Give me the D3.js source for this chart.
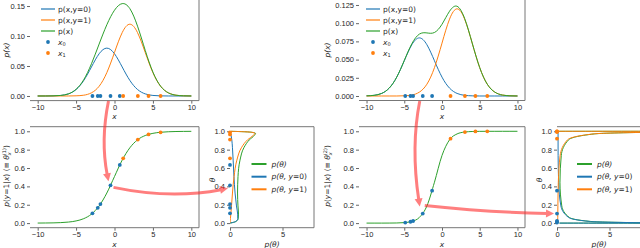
<!DOCTYPE html>
<html>
<head>
<meta charset="utf-8">
<script src="https://cdn.jsdelivr.net/npm/d3@7"></script>
<style>
  body { margin: 0; background: #fff; }
  svg { display: block; font-family: "DejaVu Sans", sans-serif; }
  .tick text { font-size: 7.5px; fill: #262626; }
  .tick line { stroke: #666; }
  .lbl { font-size: 7.5px; fill: #262626; }
  .it { font-style: italic; }
</style>
</head>
<body>
<svg id="fig" width="640" height="248"></svg>
<script>
// sample grid shared by the density and sigmoid curves
const xGrid = [-10, -9, -8, -7, -6, -5, -4, -3, -2, -1, 0, 1, 2, 3, 4, 5, 6, 7, 8, 9, 10];

// left column: p(x, y=0), p(x, y=1), p(x)
const pxY0L = [0.0000, 0.0000, 0.0002, 0.0009, 0.0035, 0.0108, 0.0259, 0.0484, 0.0704, 0.0798, 0.0704,
               0.0484, 0.0259, 0.0108, 0.0035, 0.0009, 0.0002, 0.0000, 0.0000, 0.0000, 0.0000];
const pxY1L = [0.0000, 0.0000, 0.0000, 0.0000, 0.0000, 0.0003, 0.0013, 0.0053, 0.0162, 0.0389, 0.0726,
               0.1056, 0.1197, 0.1056, 0.0726, 0.0389, 0.0162, 0.0053, 0.0013, 0.0003, 0.0000];
const pxL   = [0.0000, 0.0000, 0.0002, 0.0009, 0.0035, 0.0111, 0.0272, 0.0537, 0.0866, 0.1187, 0.1430,
               0.1540, 0.1456, 0.1164, 0.0761, 0.0398, 0.0164, 0.0053, 0.0013, 0.0003, 0.0000];
// p(y=1|x) on the same grid
const thetaL = [0.0006, 0.0012, 0.0025, 0.0054, 0.0113, 0.0237, 0.0488, 0.0980, 0.1870, 0.3275, 0.5076,
                0.6858, 0.8207, 0.9072, 0.9539, 0.9777, 0.9893, 0.9949, 0.9976, 0.9989, 0.9995];
// densities over theta at the same points
const dY0L = [0.0075, 0.0297, 0.0915, 0.2207, 0.4176, 0.6228, 0.7436, 0.7299, 0.6174, 0.4830, 0.3756,
              0.2995, 0.2347, 0.1711, 0.1064, 0.0542, 0.0221, 0.0071, 0.0018, 0.0004, 0.0001];
const dY1L = [0.0000, 0.0000, 0.0002, 0.0012, 0.0048, 0.0151, 0.0382, 0.0793, 0.1420, 0.2352, 0.3872,
              0.6535, 1.0846, 1.6732, 2.2023, 2.3762, 2.0479, 1.3928, 0.7404, 0.3093, 0.0992];
const dL   = [0.0075, 0.0297, 0.0917, 0.2219, 0.4224, 0.6379, 0.7818, 0.8092, 0.7594, 0.7182, 0.7628,
              0.9530, 1.3193, 1.8443, 2.3087, 2.4304, 2.0700, 1.3999, 0.7422, 0.3097, 0.0993];
const x0L = [-2.87, -2.18, -1.83, -0.52, 0.69];
const x1L = [1.13, 3.04, 4.43, 6.0];
const th0L = [0.107, 0.167, 0.207, 0.411, 0.634];
const th1L = [0.706, 0.910, 0.966, 0.989];

// right column
const pxY0R = [0.0002, 0.0009, 0.0035, 0.0108, 0.0259, 0.0484, 0.0704, 0.0798, 0.0704, 0.0484, 0.0259,
               0.0108, 0.0035, 0.0009, 0.0002, 0.0000, 0.0000, 0.0000, 0.0000, 0.0000, 0.0000];
const pxY1R = [0.0000, 0.0000, 0.0000, 0.0000, 0.0000, 0.0003, 0.0013, 0.0053, 0.0162, 0.0389, 0.0726,
               0.1056, 0.1197, 0.1056, 0.0726, 0.0389, 0.0162, 0.0053, 0.0013, 0.0003, 0.0000];
const pxR   = [0.0002, 0.0009, 0.0035, 0.0108, 0.0259, 0.0487, 0.0717, 0.0850, 0.0866, 0.0872, 0.0985,
               0.1164, 0.1232, 0.1065, 0.0728, 0.0389, 0.0162, 0.0053, 0.0013, 0.0003, 0.0000];
const thetaR = [0.0000, 0.0000, 0.0001, 0.0004, 0.0015, 0.0054, 0.0185, 0.0618, 0.1870, 0.4453, 0.7370,
                0.9072, 0.9715, 0.9917, 0.9976, 0.9993, 0.9998, 0.9999, 1.0000, 1.0000, 1.0000];
// theta panel on the right uses a wider sample (-14 .. 14)
const thetaWideR = [7.0e-8, 2.45e-7, 8.57e-7, 2.99e-6, 1.04e-5, 3.64e-5, 1.27e-4, 4.44e-4, 0.001548,
                    0.005384, 0.018535, 0.06183, 0.18703, 0.44534, 0.73701, 0.90723, 0.97154, 0.99168,
                    0.99760, 0.99931, 0.99980, 0.999943, 0.999984, 0.9999954, 0.9999987, 0.9999996,
                    0.99999989, 0.99999997, 0.99999999];
const dY0R = [0.24, 0.97, 2.99, 7.16, 13.4, 19.5, 22.1, 19.46, 13.41, 7.229, 3.097, 1.1004, 0.3705,
              0.1567, 0.1069, 0.1026, 0.1014, 0.0859, 0.0583, 0.0311, 0.0130, 0.0042, 0.0011, 0.0002,
              0, 0, 0, 0, 0];
const dY1R = [0, 0, 0, 0, 0.0001, 0.0007, 0.0028, 0.0086, 0.0208, 0.0391, 0.0585, 0.0725, 0.0852,
              0.1258, 0.2996, 1.0039, 3.4628, 10.24, 24.26, 45.1, 65.8, 74.5, 65.5, 45.0, 24.2, 10.1,
              3.3, 0.83, 0.16];
const dR   = [0.24, 0.97, 2.99, 7.16, 13.4, 19.5, 22.1, 19.47, 13.43, 7.268, 3.156, 1.173, 0.4557,
              0.2825, 0.4065, 1.1065, 3.5642, 10.33, 24.32, 45.13, 65.81, 74.5, 65.5, 45.0, 24.2, 10.1,
              3.3, 0.83, 0.16];
const x0R = [-4.87, -4.18, -3.83, -2.55, -1.31];
const x1R = [1.13, 3.04, 4.43, 6.0];
const th0R = [0.0063, 0.0149, 0.0228, 0.104, 0.353];
const th1R = [0.920, 0.992, 0.999, 1.000];

const xTicks = [-10, -5, 0, 5, 10];
const thTicks = [0, 0.2, 0.4, 0.6, 0.8, 1.0];
const pThTicks = [0, 5];

const blue = '#1f77b4', orange = '#ff7f0e', green = '#2ca02c';

const svg = d3.select('#fig');
let clipId = 0;

// one matplotlib-like axes: spines top/right/bottom, no left spine
function panel(box, xd, yd, xt, yt, xfmt, yfmt) {
  const x = d3.scaleLinear().domain(xd).range([box.l, box.r]);
  const y = d3.scaleLinear().domain(yd).range([box.b, box.t]);
  const g = svg.append('g');
  const id = 'clip' + (clipId++);
  svg.append('clipPath').attr('id', id).append('rect')
    .attr('x', box.l).attr('y', box.t).attr('width', box.r - box.l).attr('height', box.b - box.t);

  g.append('g').attr('transform', 'translate(0,' + box.b + ')')
    .call(d3.axisBottom(x).tickValues(xt).tickFormat(xfmt).tickSize(3).tickPadding(1))
    .call(a => a.select('.domain').remove());
  g.append('g').attr('transform', 'translate(' + box.l + ',0)')
    .call(d3.axisLeft(y).tickValues(yt).tickFormat(yfmt).tickSize(3).tickPadding(2))
    .call(a => a.select('.domain').remove());
  g.selectAll('.tick text').attr('font-family', null).attr('font-size', null);

  const plot = g.append('g').attr('clip-path', 'url(#' + id + ')');
  const spines = g.append('g').attr('stroke', '#777').attr('stroke-width', 1).attr('fill', 'none');
  spines.append('path').attr('d', 'M' + box.l + ',' + box.t + 'H' + box.r + 'V' + box.b + 'H' + box.l);
  return { x, y, g, plot, box };
}

const fmtX = d => d3.format('d')(d);

function densityPanel(box, ymax, yfmt, yTicks, ys) {
  const p = panel(box, [-11, 11], ymax, xTicks, yTicks, fmtX, yfmt);
  const line = arr => d3.line().x((d, i) => p.x(xGrid[i])).y(d => p.y(d)).curve(d3.curveNatural)(arr);
  [[ys[0], blue], [ys[1], orange], [ys[2], green]].forEach(([arr, c]) => {
    p.plot.append('path').attr('d', line(arr)).attr('fill', 'none').attr('stroke', c).attr('stroke-width', 1);
  });
  [[ys[3], blue], [ys[4], orange]].forEach(([pts, c]) => {
    p.g.append('g').selectAll('circle').data(pts).join('circle')
      .attr('cx', d => p.x(d)).attr('cy', p.y(0)).attr('r', 1.9).attr('fill', c);
  });
  return p;
}

function sigmoidPanel(box, theta, xs0, xs1, t0, t1) {
  const p = panel(box, [-11, 11], [-0.05, 1.05], xTicks, thTicks, fmtX, d3.format('.1f'));
  p.plot.append('path')
    .attr('d', d3.line().x((d, i) => p.x(xGrid[i])).y(d => p.y(d)).curve(d3.curveMonotoneX)(theta))
    .attr('fill', 'none').attr('stroke', green).attr('stroke-width', 1);
  [[xs0, t0, blue], [xs1, t1, orange]].forEach(([xs, ts, c]) => {
    p.g.append('g').selectAll('circle').data(xs).join('circle')
      .attr('cx', d => p.x(d)).attr('cy', (d, i) => p.y(ts[i])).attr('r', 1.9).attr('fill', c);
  });
  return p;
}

function thetaPanel(box, theta, curves, t0, t1) {
  const p = panel(box, [0, 8], [-0.05, 1.05], pThTicks, thTicks, d3.format('d'), d3.format('.1f'));
  curves.forEach(([arr, c]) => {
    p.plot.append('path')
      .attr('d', d3.line().x(d => p.x(d)).y((d, i) => p.y(theta[i])).curve(d3.curveMonotoneY)(arr))
      .attr('fill', 'none').attr('stroke', c).attr('stroke-width', 1);
  });
  [[t0, blue], [t1, orange]].forEach(([ts, c]) => {
    p.g.append('g').selectAll('circle').data(ts).join('circle')
      .attr('cx', p.x(0)).attr('cy', d => p.y(d)).attr('r', 1.9).attr('fill', c);
  });
  return p;
}

// ---- panels ----
const pA = densityPanel({ l: 30, r: 199, t: -1, b: 100.6 }, [-0.0077, 0.1617], d3.format('.2f'),
  [0, 0.05, 0.10, 0.15], [pxY0L, pxY1L, pxL, x0L, x1L]);
const pD = densityPanel({ l: 359, r: 525, t: -1, b: 100.5 }, [-0.0062, 0.1332], d3.format('.3f'),
  [0, 0.025, 0.05, 0.075, 0.1, 0.125], [pxY0R, pxY1R, pxR, x0R, x1R]);
const pB = sigmoidPanel({ l: 30, r: 199, t: 126.7, b: 227.7 }, thetaL, x0L, x1L, th0L, th1L);
const pE = sigmoidPanel({ l: 359, r: 525, t: 126.7, b: 227.7 }, thetaR, x0R, x1R, th0R, th1R);
const pC = thetaPanel({ l: 230, r: 314, t: 126.7, b: 227.7 }, thetaL,
  [[dL, green], [dY0L, blue], [dY1L, orange]], th0L, th1L);
const pF = thetaPanel({ l: 557, r: 641, t: 126.7, b: 227.7 }, thetaWideR,
  [[dR, green], [dY0R, blue], [dY1R, orange]], th0R, th1R);

// ---- labels ----
function vlabel(x, y, build) {
  const t = svg.append('text').attr('class', 'lbl').attr('text-anchor', 'middle')
    .attr('transform', 'translate(' + x + ',' + y + ') rotate(-90)');
  build(t);
}
function hlabel(x, y, build) {
  const t = svg.append('text').attr('class', 'lbl').attr('text-anchor', 'middle').attr('x', x).attr('y', y);
  build(t);
}
const italic = (t, s) => t.append('tspan').attr('class', 'it').text(s);

[pA, pD].forEach(p => {
  hlabel((p.box.l + p.box.r) / 2, 119, t => italic(t, 'x'));
});
[pB, pE].forEach(p => {
  hlabel((p.box.l + p.box.r) / 2, 246.5, t => italic(t, 'x'));
});
[pC, pF].forEach(p => {
  hlabel(p.x(4), 246.5, t => italic(t, 'p(θ)'));
  vlabel(p.box.l - 15, 180, t => italic(t, 'θ'));
});
vlabel(9, 50, t => italic(t, 'p(x)'));
vlabel(330, 50, t => italic(t, 'p(x)'));
[[pB, 9, '(1)'], [pE, 330, '(2)']].forEach(([p, x, sup]) => {
  vlabel(x, 176, t => {
    italic(t, 'p');
    t.append('tspan').text('(');
    italic(t, 'y');
    t.append('tspan').text('=1|');
    italic(t, 'x');
    t.append('tspan').text(')  (≡ ');
    italic(t, 'θ');
    t.append('tspan').attr('class', 'it').attr('font-size', '5px').attr('dy', 2).text('x');
    t.append('tspan').attr('font-size', '5px').attr('dy', -5).attr('dx', -3).text(sup);
    t.append('tspan').attr('dy', 3).text(')');
  });
});

// ---- legends ----
function densLegend(x0, names) {
  const rows = [9, 20, 31, 42, 53];
  const g = svg.append('g');
  [blue, orange, green].forEach((c, i) => {
    g.append('line').attr('x1', x0).attr('x2', x0 + 14).attr('y1', rows[i]).attr('y2', rows[i])
      .attr('stroke', c).attr('stroke-width', 1.2);
  });
  [blue, orange].forEach((c, i) => {
    g.append('circle').attr('cx', x0 + 7).attr('cy', rows[3 + i]).attr('r', 1.9).attr('fill', c);
  });
  names.forEach((n, i) => {
    const t = g.append('text').attr('class', 'lbl').attr('x', x0 + 17).attr('y', rows[i] + 2.7);
    if (i < 3) t.text(n);
    else {
      italic(t, 'x');
      t.append('tspan').attr('font-size', '5px').attr('dy', 1.5).text(n);
    }
  });
}
const densNames = ['p(x,y=0)', 'p(x,y=1)', 'p(x)', '0', '1'];
densLegend(41, densNames);
densLegend(366, densNames);

function thetaLegend(x0) {
  const rows = [164, 176.7, 189.3];
  const g = svg.append('g');
  const names = [['p(θ)', ''], ['p(θ, ', 'y', '=0)'], ['p(θ, ', 'y', '=1)']];
  [green, blue, orange].forEach((c, i) => {
    g.append('line').attr('x1', x0).attr('x2', x0 + 15).attr('y1', rows[i]).attr('y2', rows[i])
      .attr('stroke', c).attr('stroke-width', 2);
    const t = g.append('text').attr('class', 'lbl').attr('x', x0 + 20).attr('y', rows[i] + 2.7);
    const n = names[i];
    italic(t, n[0]);
    if (n.length > 2) { italic(t, n[1]); t.append('tspan').text(n[2]); }
  });
}
thetaLegend(251.5);
thetaLegend(577);

// ---- red arrows ----
function arrow(p0, c, p1) {
  const g = svg.append('g').attr('opacity', 0.6);
  const dx = p1[0] - c[0], dy = p1[1] - c[1];
  const len = Math.hypot(dx, dy), ux = dx / len, uy = dy / len;
  const hl = 8, hw = 4;
  const base = [p1[0] - ux * hl, p1[1] - uy * hl];
  const path = d3.path();
  path.moveTo(p0[0], p0[1]);
  path.quadraticCurveTo(c[0], c[1], base[0] + ux, base[1] + uy);
  g.append('path').attr('d', path.toString()).attr('fill', 'none').attr('stroke', '#ff2a2a')
    .attr('stroke-width', 3);
  g.append('path')
    .attr('d', 'M' + p1[0] + ',' + p1[1] +
      'L' + (base[0] - uy * hw) + ',' + (base[1] + ux * hw) +
      'L' + (base[0] + uy * hw) + ',' + (base[1] - ux * hw) + 'Z')
    .attr('fill', '#ff2a2a');
}
{
  const px = pB.x(x0L[3]), py = pB.y(th0L[3]);
  arrow([px - 2, 101], [px - 10, py - 45], [px - 2, py - 4]);
  arrow([px + 3, py + 2], [px + 60, py + 14], [pC.x(0) - 2, pC.y(th0L[3]) + 3]);
}
{
  const px = pE.x(x0R[3]), py = pE.y(th0R[3]);
  arrow([px - 3, 101], [px - 12, py - 67], [px - 3, py - 7]);
  arrow([px + 2, py - 8], [px + 68, py - 1], [pF.x(0) - 3, pF.y(th0R[3])]);
}
</script>
</body>
</html>
